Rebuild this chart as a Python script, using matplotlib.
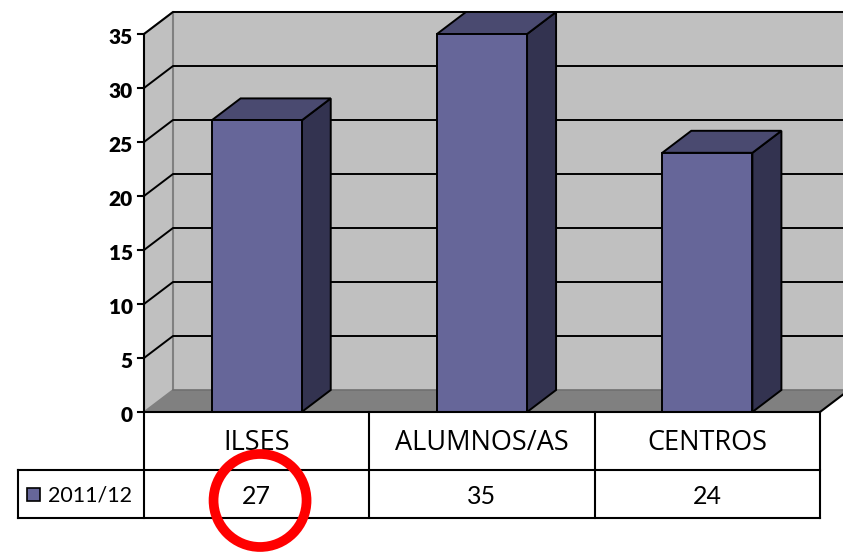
import matplotlib
matplotlib.use("Agg")
import matplotlib.pyplot as plt
from matplotlib.patches import Polygon, Rectangle, Ellipse

categories = ["ILSES", "ALUMNOS/AS", "CENTROS"]
series_name = "2011/12"
values = [27, 35, 24]
yticks = [0, 5, 10, 15, 20, 25, 30, 35]

plt.rcParams['font.family'] = ['Lato', 'DejaVu Sans']

W, H = 843, 552
fig = plt.figure(figsize=(W / 100, H / 100), dpi=100)
ax = fig.add_axes([0, 0, 1, 1])

# pixel geometry of the front plane
x0px, x3px = 144, 820
y0px, y35px = 412, 34
ux = (x3px - x0px) / 3.0
uy = (y0px - y35px) / 35.0
ax.set_xlim(-x0px / ux, (W - x0px) / ux)
ax.set_ylim(-(H - y0px) / uy, y0px / uy)
ax.axis('off')

dx = 29 / ux
dy = 22 / uy
ymax = 35
n = len(categories)

wall = '#c0c0c0'
floor = '#808080'
edge = '#808080'

# back wall
ax.add_patch(Polygon([(dx, dy), (n + dx + 1, dy), (n + dx + 1, ymax + dy), (dx, ymax + dy)],
                     closed=True, fc=wall, ec='none', zorder=1))
# side wall
ax.add_patch(Polygon([(0, 0), (dx, dy), (dx, ymax + dy), (0, ymax)],
                     closed=True, fc=wall, ec='none', zorder=1))
# floor
ax.add_patch(Polygon([(0, 0), (n, 0), (n + dx, dy), (dx, dy)],
                     closed=True, fc=floor, ec='none', zorder=1))
# wall edges
ax.plot([dx, dx], [dy, ymax + dy], color=edge, lw=1.5, zorder=2)
ax.plot([0, dx, n + dx + 1], [ymax, ymax + dy, ymax + dy], color=edge, lw=1.5, zorder=2)
ax.plot([0, dx], [0, dy], color=edge, lw=1.2, zorder=2)
ax.plot([dx, n + dx], [dy, dy], color='#707070', lw=1.2, zorder=2)

# gridlines
for v in yticks[1:]:
    ax.plot([0, dx, n + dx + 1], [v, v + dy, v + dy], color='black', lw=1.4, zorder=2)

# bars
bw = 0.4
front = '#666699'
side = '#333350'
top = '#4a4a70'
for i, val in enumerate(values):
    xc = i + 0.5
    xl, xr = xc - bw / 2, xc + bw / 2
    ax.add_patch(Polygon([(xr, 0), (xr + dx, dy), (xr + dx, val + dy), (xr, val)],
                         closed=True, fc=side, ec='black', lw=1.4, zorder=3))
    ax.add_patch(Polygon([(xl, val), (xr, val), (xr + dx, val + dy), (xl + dx, val + dy)],
                         closed=True, fc=top, ec='black', lw=1.4, zorder=3))
    ax.add_patch(Rectangle((xl, 0), bw, val, fc=front, ec='black', lw=1.4, zorder=4))

# y axis
ax.plot([0, 0], [0, ymax], color='black', lw=1.5, zorder=5)
tick_len = 6 / ux
for v in yticks:
    ax.plot([-tick_len, 0], [v, v], color='black', lw=1.5, zorder=5)
    ax.text(-tick_len - 5 / ux, v - 4 / uy, str(v), ha='right', va='center',
            fontsize=15, fontweight='heavy', color='black', zorder=5)

# floor right edge
ax.plot([n, n + dx], [0, dy], color='black', lw=1.5, zorder=5)

# data table
r1 = -(470 - y0px) / uy
r2 = -(518 - y0px) / uy
xleg = -(x0px - 18) / ux
lw = 1.5
ax.plot([0, n], [0, 0], color='black', lw=lw, zorder=5)
ax.plot([xleg, n], [r1, r1], color='black', lw=lw, zorder=5)
ax.plot([xleg, n], [r2, r2], color='black', lw=lw, zorder=5)
for i in range(n + 1):
    ax.plot([i, i], [0, r2], color='black', lw=lw, zorder=5)
ax.plot([xleg, xleg], [r1, r2], color='black', lw=lw, zorder=5)

for i, (c, val) in enumerate(zip(categories, values)):
    ax.text(i + 0.5, r1 / 2 - 2 / uy, c, ha='center', va='center', fontsize=19.5,
            family=['Open Sans', 'DejaVu Sans'], color='black', zorder=6)
    ax.text(i + 0.5, (r1 + r2) / 2 - 2 / uy, str(val), ha='center', va='center', fontsize=18,
            color='black', zorder=6)

# legend key
kx = -(x0px - 27) / ux
ks = 13
ax.add_patch(Rectangle((kx, (r1 + r2) / 2 - ks / 2 / uy), ks / ux, ks / uy,
                       fc=front, ec='black', lw=1.2, zorder=6))
ax.text(-(x0px - 48) / ux, (r1 + r2) / 2 - 1 / uy, series_name, ha='left', va='center',
        fontsize=15.5, color='black', zorder=6)

# red highlight circle around first value
ax.add_patch(Ellipse((0.515, (r1 + r2) / 2 - 0.6), 93 / ux, 93 / uy, fc='none',
                     ec='#ff0000', lw=7, zorder=7))

fig.savefig('out.png', dpi=100)
